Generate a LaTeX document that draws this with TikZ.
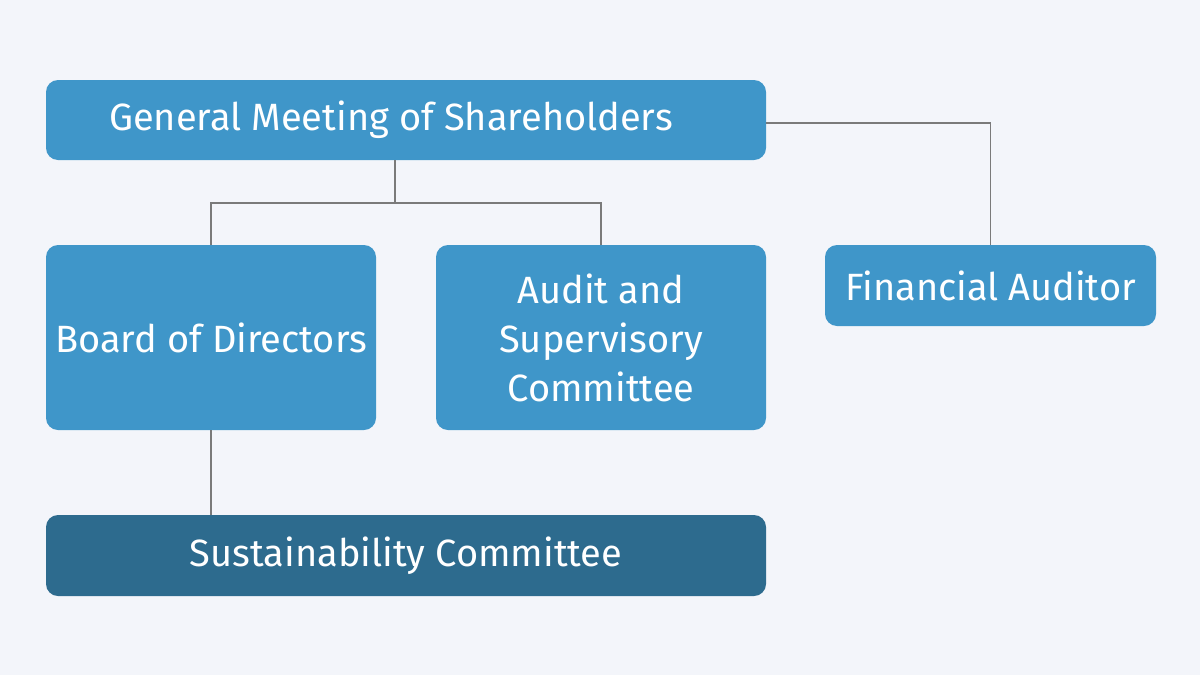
\documentclass[tikz,border=0pt]{standalone}
\usepackage{fontspec}
\setmainfont{Fira Sans}
\usepackage{xcolor}
\usepackage{tikz}
\usetikzlibrary{positioning}

\definecolor{bgcol}{HTML}{F3F5FA}
\definecolor{boxblue}{HTML}{3F96C9}
\definecolor{boxdark}{HTML}{2D6B8E}
\definecolor{linegray}{HTML}{7A7A7A}

\begin{document}
\begin{tikzpicture}[x=1pt, y=-1pt,
        O node/.style={rectangle, rounded corners=12pt, fill=boxblue,
            text=white, font=\fontsize{38}{49}\selectfont, align=center,
            inner sep=0pt},
        link/.style={draw=linegray, line width=1.6pt}]

    \fill[bgcol] (0,0) rectangle (1200,675);

    \node[O node, minimum width=720pt, minimum height=80pt] (gm) at (406,120) {General Meeting of Shareholders\hspace{30pt}};
    \node[O node, minimum width=330pt, minimum height=185pt] (bod) at (211,337.5) {Board of Directors};
    \node[O node, minimum width=330pt, minimum height=185pt] (asc) at (601,337.5) {Audit and\\Supervisory\\Committee};
    \node[O node, minimum width=331pt, minimum height=81pt] (fa) at (990.5,285.5) {Financial Auditor};
    \node[O node, fill=boxdark, minimum width=720pt, minimum height=81pt] (sc) at (406,555.5) {Sustainability Committee};

    \coordinate (split) at (395,203);
    \coordinate (gm right) at ([yshift=-3pt]gm.east);

    \path[link]
    (gm.south -| split) -- (split)
    (bod.north) |- (split) -| (asc.north)
    (gm right) -| (fa.north)
    (bod.south) -- (bod.south |- sc.north)
    ;
\end{tikzpicture}
\end{document}
